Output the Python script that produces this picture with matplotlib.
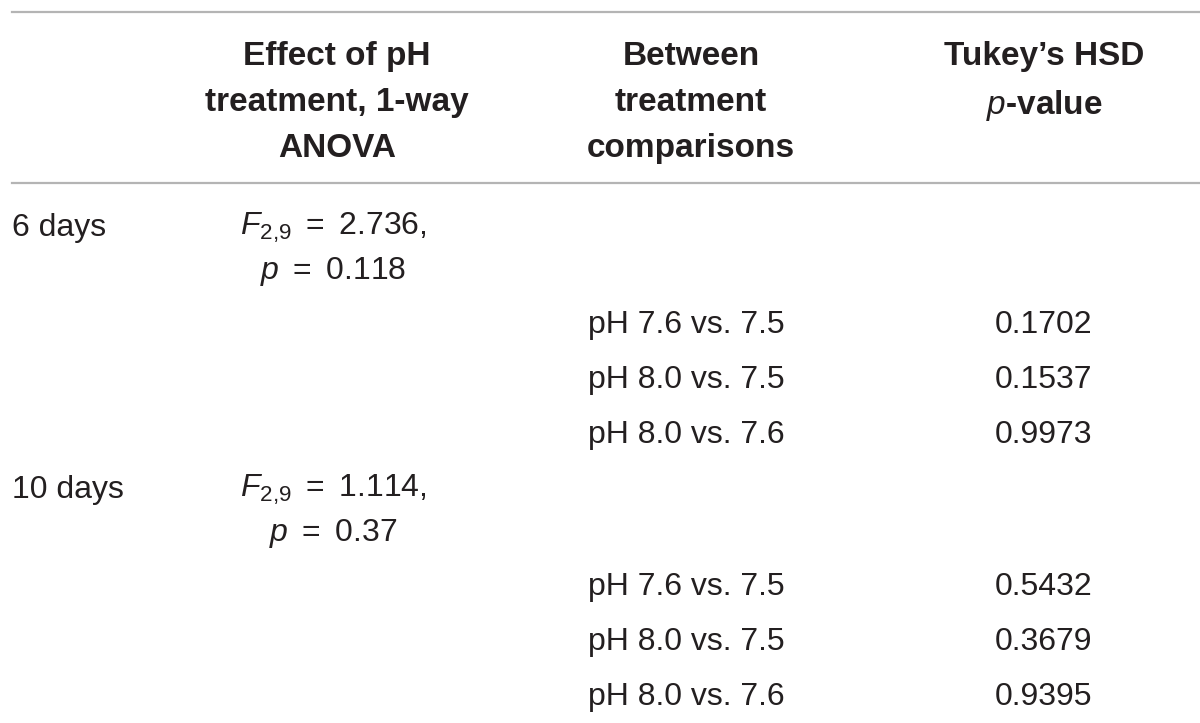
import matplotlib.pyplot as plt

plt.rcParams['font.family'] = ['Liberation Sans', 'DejaVu Sans']
plt.rcParams['mathtext.fontset'] = 'custom'
plt.rcParams['mathtext.rm'] = 'Liberation Sans'
plt.rcParams['mathtext.it'] = 'Liberation Sans:italic'
plt.rcParams['mathtext.bf'] = 'Liberation Sans:bold'

# table content
headers = ["Effect of pH\ntreatment, 1-way\nANOVA",
           "Between\ntreatment\ncomparisons",
           "Tukey\u2019s HSD\n$p$-value"]
periods = ["6 days", "10 days"]
anova_f = ["2.736", "1.114"]
anova_p = ["0.118", "0.37"]
comparisons = ["pH 7.6 vs. 7.5", "pH 8.0 vs. 7.5", "pH 8.0 vs. 7.6"]
tukey_p = [["0.1702", "0.1537", "0.9973"],
           ["0.5432", "0.3679", "0.9395"]]

txt = '#231f20'
rule = '#b4b4b4'
fs = 23
hfs = 24

fig = plt.figure(figsize=(12, 7.23), dpi=100)
ax = fig.add_axes([0, 0, 1, 1])
ax.set_xlim(0, 1200)
ax.set_ylim(723, 0)
ax.axis('off')

# rules
ax.plot([12, 1200], [12, 12], color=rule, lw=1.6)
ax.plot([12, 1200], [183, 183], color=rule, lw=1.6)

# header, top aligned
col_x = [337, 691, 1044]
for x, h in zip(col_x, headers):
    ax.text(x, 41, h, ha='center', va='top', fontsize=hfs, fontweight='bold',
            color=txt, linespacing=1.63)

# body
block_top = [228, 490]
for i, per in enumerate(periods):
    y0 = block_top[i]
    ax.text(12, y0, per, ha='left', va='center', fontsize=fs, color=txt)
    ax.text(333, y0, r'$F_{2{,}9}\ =\ $' + anova_f[i] + ',', ha='center', va='center',
            fontsize=fs, color=txt)
    ax.text(333, y0 + 43, r'$p\ =\ $' + anova_p[i], ha='center', va='center',
            fontsize=fs, color=txt)
    for j, comp in enumerate(comparisons):
        y = y0 + 97 + j * 55
        ax.text(588, y, comp, ha='left', va='center', fontsize=fs, color=txt)
        ax.text(1044, y, tukey_p[i][j], ha='center', va='center', fontsize=fs, color=txt)

fig.savefig('out.png', dpi=100)
